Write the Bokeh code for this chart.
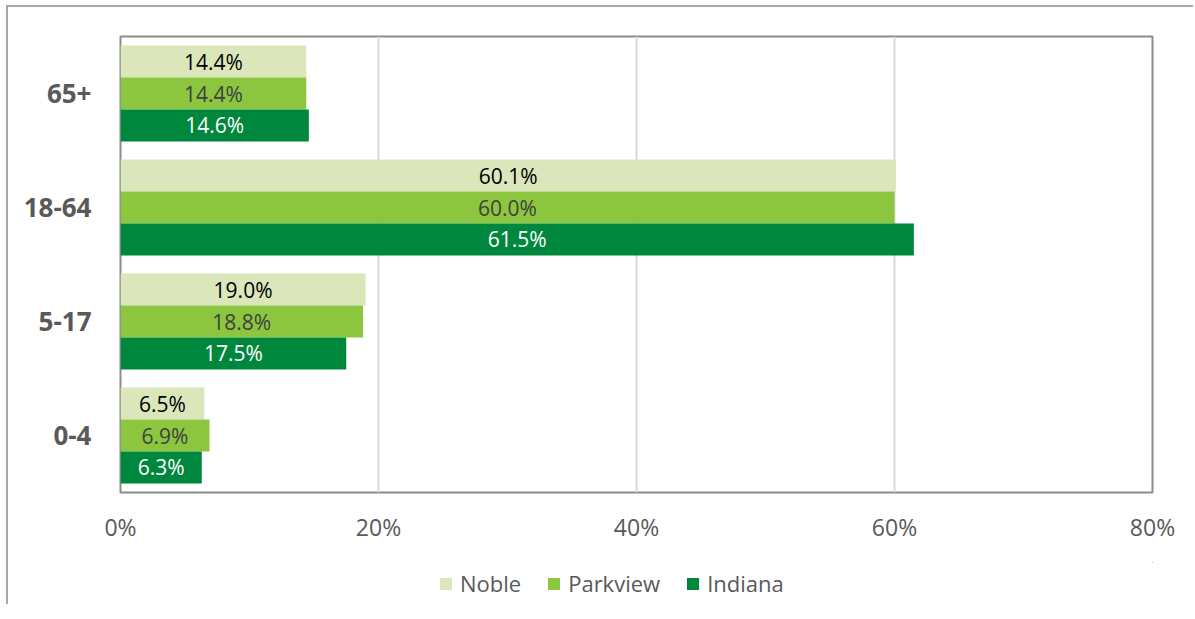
from bokeh.plotting import figure
from bokeh.layouts import column
from bokeh.models import ColumnDataSource, FactorRange, Range1d, FixedTicker, PrintfTickFormatter, Legend, LegendItem
from bokeh.transform import dodge
from bokeh.core.properties import value
from bokeh.embed import file_html
from bokeh.resources import INLINE

age_groups = ["0-4", "5-17", "18-64", "65+"]
series_names = ["Noble", "Parkview", "Indiana"]
noble = [6.5, 19.0, 60.1, 14.4]
parkview = [6.9, 18.8, 60.0, 14.4]
indiana = [6.3, 17.5, 61.5, 14.6]
x_ticks = [0, 20, 40, 60, 80]

colors = ["#dbe7ba", "#8cc63f", "#00873e"]
label_colors = ["#000000", "#404040", "#ffffff"]
offsets = [0.28, 0.0, -0.28]
FONT = "Open Sans"

p = figure(width=1185, height=555, y_range=FactorRange(*age_groups), x_range=Range1d(0, 80),
           output_backend="svg", toolbar_location=None,
           min_border_left=112, min_border_right=41, min_border_top=29, min_border_bottom=70)

p.outline_line_color = "#8c8c8c"
p.outline_line_width = 2
p.ygrid.visible = False
p.xgrid.grid_line_color = "#d9d9d9"
p.xgrid.grid_line_width = 2
p.xgrid.ticker = FixedTicker(ticks=x_ticks)

p.xaxis.ticker = FixedTicker(ticks=x_ticks)
p.xaxis.formatter = PrintfTickFormatter(format="%d%%")
p.xaxis.axis_line_color = None
p.xaxis.major_tick_line_color = None
p.xaxis.minor_tick_line_color = None
p.xaxis.major_label_text_font = FONT
p.xaxis.major_label_text_font_size = "23px"
p.xaxis.major_label_text_color = "#595959"
p.xaxis.major_label_standoff = 12

p.yaxis.axis_line_color = None
p.yaxis.major_tick_line_color = None
p.yaxis.minor_tick_line_color = None
p.yaxis.major_label_text_font = FONT
p.yaxis.major_label_text_font_size = "26px"
p.yaxis.major_label_text_font_style = "bold"
p.yaxis.major_label_text_color = "#595959"
p.yaxis.major_label_standoff = 23

sources = []
for name, vals, col, lcol, off in zip(series_names, [noble, parkview, indiana], colors, label_colors, offsets):
    src = ColumnDataSource(dict(age=age_groups, v=vals, mid=[v / 2 for v in vals],
                                lab=["%.1f%%" % v for v in vals]))
    sources.append(src)
    p.hbar(y=dodge("age", off, range=p.y_range), right="v", left=0, height=0.28,
           source=src, fill_color=col, line_color=None)
    p.text(x="mid", y=dodge("age", off, range=p.y_range), text="lab", source=src,
           text_align="center", text_baseline="middle", text_font=value(FONT),
           text_font_size="21px", text_color=lcol)

# legend strip below the chart (its bars lie far outside its visible ranges; only the legend shows)
lg = figure(width=1185, height=42, output_backend="svg", toolbar_location=None,
            x_axis_location=None, y_axis_location=None,
            min_border_left=0, min_border_right=0, min_border_top=0, min_border_bottom=0,
            x_range=Range1d(-200, -100), y_range=Range1d(-200, -100))
lg.outline_line_color = None
lg.grid.visible = False
items = []
for name, col, src in zip(series_names, colors, sources):
    r = lg.hbar(y="v", right="v", left="mid", height=0.5, source=src, fill_color=col, line_color=None)
    items.append(LegendItem(label=name, renderers=[r], index=0))
legend = Legend(items=items, orientation="horizontal", location=(318, 6),
                border_line_color=None, background_fill_alpha=0,
                label_text_font=FONT, label_text_font_size="22px", label_text_color="#595959",
                glyph_width=15, glyph_height=15, spacing=25, label_standoff=7, padding=0, margin=0)
lg.add_layout(legend, "center")

layout = column(p, lg, spacing=0)
layout.styles = {"border-left": "2px solid #a6a6a6", "border-top": "2px solid #a6a6a6",
                 "margin-left": "6px", "margin-top": "5px"}

open("out.html", "w").write(file_html(layout, INLINE))
